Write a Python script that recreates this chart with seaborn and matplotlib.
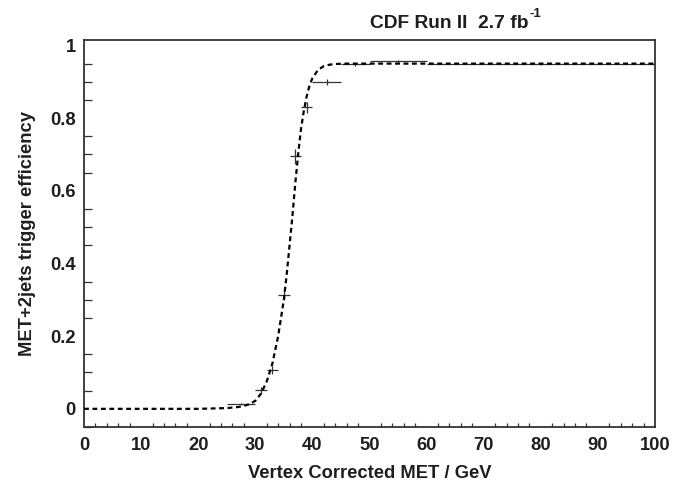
import numpy as np
import pandas as pd
import matplotlib
matplotlib.use("Agg")
import matplotlib.pyplot as plt
import seaborn as sns
from matplotlib.ticker import MultipleLocator

# ---- data ----
pt_x = [27.5, 31.0, 33.0, 35.0, 37.0, 39.0, 42.5, 47.5, 55.0, 80.0]
pt_xerr = [2.5, 1.0, 1.0, 1.0, 1.0, 1.0, 2.5, 2.5, 5.0, 20.0]
pt_y = [0.013, 0.052, 0.106, 0.313, 0.695, 0.830, 0.899, 0.948, 0.956, 0.950]
pt_yerr = [0.003, 0.008, 0.011, 0.014, 0.020, 0.015, 0.009, 0.005, 0.005, 0.003]

fit_x = [0, 20, 25, 27, 28, 29, 30, 31, 32, 33, 34, 35, 35.5, 36, 36.5, 37, 37.5,
         38, 38.5, 39, 39.5, 40, 41, 42, 43, 44, 46, 50, 100]
fit_y = [0.0, 0.0, 0.002, 0.005, 0.008, 0.013, 0.022, 0.042, 0.075, 0.125, 0.20,
         0.30, 0.37, 0.45, 0.53, 0.62, 0.70, 0.77, 0.82, 0.86, 0.89, 0.91, 0.933,
         0.943, 0.947, 0.949, 0.95, 0.95, 0.95]

x_ticks = [0, 10, 20, 30, 40, 50, 60, 70, 80, 90, 100]
y_ticks = [0, 0.2, 0.4, 0.6, 0.8, 1.0]
y_ticklabels = ["0", "0.2", "0.4", "0.6", "0.8", "1"]

title_main = "CDF Run II  2.7 fb"
title_sup = "-1"
x_label = "Vertex Corrected MET / GeV"
y_label = "MET+2jets trigger efficiency"

# ---- style ----
sns.set_theme(style="white")
plt.rcParams["font.family"] = ["Liberation Sans", "DejaVu Sans"]
plt.rcParams["font.weight"] = "bold"
txt_color = "#1e1e1e"
fs = 13.2

fig = plt.figure(figsize=(6.93, 4.83), dpi=100)
ax = fig.add_axes([84 / 693, 56 / 483, 571 / 693, 387 / 483])

fit_df = pd.DataFrame({"x": fit_x, "y": fit_y})
sns.lineplot(data=fit_df, x="x", y="y", ax=ax, color="black", lw=1.6,
             linestyle=(0, (2.2, 1.6)), zorder=3)

pts_df = pd.DataFrame({"x": pt_x, "y": pt_y})
ax.errorbar(pts_df["x"], pts_df["y"], xerr=pt_xerr, yerr=pt_yerr, fmt="none",
            ecolor="#333333", elinewidth=0.9, capsize=0, zorder=2)

ax.set_xlim(0, 100)
ax.set_ylim(-0.05, 1.015)

ax.set_xticks(x_ticks)
ax.xaxis.set_minor_locator(MultipleLocator(2))
ax.set_yticks(y_ticks)
ax.set_yticklabels(y_ticklabels)
ax.yaxis.set_minor_locator(MultipleLocator(0.05))

ax.tick_params(axis="x", which="major", direction="in", length=5, width=1.0,
               color="#333333", labelsize=fs, labelcolor=txt_color, pad=7,
               top=False)
ax.tick_params(axis="x", which="minor", direction="in", length=3, width=0.9,
               color="#333333", bottom=True, top=False)
ax.tick_params(axis="y", which="major", direction="in", length=12, width=1.0,
               color="#333333", labelsize=fs, labelcolor=txt_color, pad=6,
               right=False)
ax.tick_params(axis="y", which="minor", direction="in", length=6, width=0.9,
               color="#333333", left=True, right=False)
for lab in ax.get_xticklabels() + ax.get_yticklabels():
    lab.set_fontweight("bold")

for s in ax.spines.values():
    s.set_color("#333333")
    s.set_linewidth(1.3)

ax.set_xlabel(x_label, fontsize=fs, fontweight="bold", color=txt_color, labelpad=8)
ax.set_ylabel(y_label, fontsize=fs, fontweight="bold", color=txt_color, labelpad=10)

t = fig.text(370 / 693, 1 - 23 / 483, title_main, fontsize=13.8, fontweight="bold",
             color=txt_color, ha="left", va="center")
fig.canvas.draw()
bb = t.get_window_extent()
fig.text((bb.x1 + 1) / 693, 1 - 14 / 483, title_sup, fontsize=9.5,
         fontweight="bold", color=txt_color, ha="left", va="center")

fig.savefig("out.png", dpi=100)
